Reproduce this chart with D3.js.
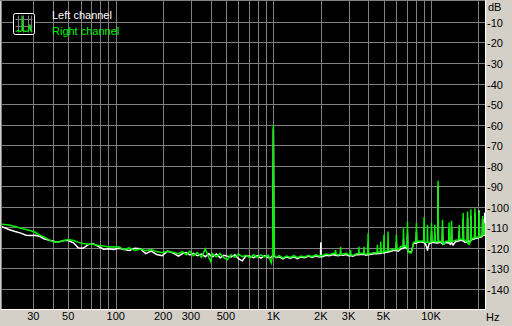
<!DOCTYPE html>
<html>
<head>
<meta charset="utf-8">
<script src="https://cdn.jsdelivr.net/npm/d3@7"></script>
<style>
  body { margin: 0; background: #d4d0c8; }
  svg { display: block; }
  text { font-family: "Liberation Sans", Arial, sans-serif; font-size: 11px; }
</style>
</head>
<body>
<script>
// frequencies (Hz), shared by both channels
var hzLow = [19, 21, 23, 25, 27, 29, 31, 33, 35, 38,
  41, 44, 47, 50, 54, 58, 62, 67, 72, 78,
  84, 90, 97, 105, 113, 122, 132, 143, 155, 168,
  182, 197, 213, 230, 250];
var hzMid = [265, 280, 295, 310, 330, 350, 370, 390, 400, 410,
  435, 460, 485, 510, 540, 570, 600, 635, 670, 710,
  750, 790, 835, 880, 930, 970, 990, 1000, 1010, 1040,
  1090, 1150, 1210, 1280, 1350, 1420, 1500, 1580, 1670, 1760,
  1860, 1960, 1990, 2000, 2010, 2040, 2150, 2270, 2400, 2465,
  2480, 2495, 2580, 2655, 2670, 2685, 2780, 2900];
var hzHigh = [3000, 3075, 3090, 3105, 3200, 3350, 3475, 3490, 3505, 3620,
  3745, 3760, 3775, 3870, 3970, 3990, 4010, 4100, 4300, 4550,
  4570, 4590, 4680, 4780, 4800, 4820, 4910, 5005, 5030, 5055,
  5180, 5315, 5340, 5365, 5500, 5750, 6000, 6030, 6060, 6200,
  6450, 6660, 6690, 6720, 6850, 7055, 7090, 7125, 7250, 7500,
  7750, 8040, 8080, 8120, 8300, 8600, 9000, 9040, 9080, 9250,
  9455, 9500, 9545, 9750, 10020, 10070, 10120, 10300, 10520, 10570,
  10620, 10800, 11040, 11090, 11140, 11350, 11770, 11830, 11890, 12100,
  12400, 12970, 13030, 13090, 13250, 13430, 13500, 13570, 13800, 14300,
  15020, 15090, 15160, 15400, 15920, 16000, 16080, 16450, 16980, 17060,
  17140, 17450, 17820, 17900, 17980, 18400, 18890, 18980, 19070, 19550,
  20110, 20210, 20310, 20700, 21150, 21250, 21350, 21600, 21800, 21900,
  22000];

// Left channel levels (dB)
var leftLow = [-109.8, -111.2, -112.2, -113.0, -114.0, -114.1, -114.0, -114.6, -115.7, -116.5,
  -117.1, -117.2, -116.6, -116.6, -117.7, -120.2, -120.4, -118.6, -118.2, -119.6,
  -120.8, -120.6, -121.0, -120.4, -121.0, -121.4, -120.4, -120.6, -123.0, -121.8,
  -123.4, -124.0, -121.8, -122.6, -124.2];
var leftMid = [-123.0, -122.5, -123.6, -122.8, -124.0, -123.2, -124.5, -123.0, -124.0, -124.6,
  -123.2, -125.0, -123.8, -124.2, -124.6, -123.5, -125.5, -126.5, -124.0, -124.2,
  -125.0, -124.0, -125.2, -124.0, -125.0, -124.8, -124.0, -62.0, -124.0, -125.0,
  -124.5, -125.5, -124.6, -125.2, -124.5, -125.4, -124.6, -125.0, -124.2, -124.8,
  -124.0, -124.6, -124.5, -117.4, -124.5, -124.5, -123.8, -124.0, -123.4, -123.8,
  -123.6, -123.8, -124.0, -123.6, -122.5, -123.6, -123.8, -123.4];
var leftHigh = [-124.0, -124.0, -123.0, -124.0, -124.2, -123.5, -123.5, -122.5, -123.5, -123.3,
  -123.4, -121.8, -123.4, -123.8, -123.5, -118.0, -123.5, -123.4, -123.0, -123.0,
  -122.0, -123.0, -122.8, -122.9, -120.5, -122.9, -122.6, -122.6, -119.0, -122.6,
  -122.3, -122.2, -118.5, -122.2, -122.0, -121.5, -121.4, -117.5, -121.5, -121.8,
  -120.6, -120.4, -116.0, -120.3, -119.8, -120.6, -113.0, -121.8, -122.0, -122.2,
  -118.0, -117.8, -112.5, -117.8, -117.4, -117.2, -117.6, -110.0, -117.8, -118.5,
  -120.5, -121.5, -120.5, -118.0, -117.8, -112.0, -117.6, -117.5, -117.6, -113.0,
  -117.6, -117.8, -117.8, -90.0, -117.6, -117.4, -118.0, -110.0, -118.4, -118.0,
  -117.6, -117.8, -111.0, -118.0, -118.5, -118.0, -110.5, -118.0, -118.8, -117.2,
  -116.8, -112.0, -116.6, -116.6, -116.6, -106.0, -117.0, -117.5, -117.2, -105.5,
  -117.5, -117.0, -116.8, -104.5, -116.4, -116.0, -115.8, -103.0, -115.6, -115.5,
  -115.2, -102.0, -115.0, -115.0, -114.5, -106.0, -114.2, -114.0, -114.0, -103.0,
  -113.5];

// Right channel levels (dB)
var rightLow = [-108.6, -109.0, -109.8, -110.6, -111.2, -111.8, -112.7, -114.0, -114.8, -116.4,
  -117.4, -117.2, -116.6, -116.1, -116.6, -117.5, -118.0, -118.4, -118.4, -119.0,
  -119.3, -119.8, -119.6, -119.8, -121.0, -120.2, -121.5, -120.8, -121.6, -121.0,
  -122.0, -122.5, -121.8, -122.3, -123.0];
var rightMid = [-122.0, -123.5, -121.8, -124.0, -122.5, -124.8, -120.7, -125.0, -126.8, -123.0,
  -124.5, -123.0, -125.0, -126.0, -123.5, -124.8, -123.2, -124.5, -123.8, -125.0,
  -123.5, -124.8, -123.6, -124.6, -123.8, -127.5, -123.5, -60.4, -123.5, -124.8,
  -124.0, -125.2, -124.2, -124.8, -124.0, -125.0, -124.2, -124.6, -123.8, -124.5,
  -123.6, -124.2, -123.9, -123.8, -123.9, -124.0, -123.2, -123.5, -122.8, -123.0,
  -121.2, -123.2, -123.6, -123.3, -119.6, -123.3, -123.2, -122.8];
var rightHigh = [-123.5, -123.4, -121.2, -123.6, -123.8, -123.0, -123.0, -119.6, -123.0, -122.8,
  -123.0, -119.6, -123.0, -123.2, -123.0, -113.0, -123.0, -123.0, -122.5, -122.5,
  -118.7, -122.4, -122.3, -122.4, -117.1, -122.4, -122.4, -122.0, -113.8, -122.0,
  -121.8, -121.6, -112.2, -121.6, -121.5, -120.8, -120.6, -113.8, -120.8, -121.0,
  -119.5, -119.6, -110.6, -119.5, -119.0, -120.0, -107.3, -121.5, -122.5, -122.6,
  -117.5, -117.2, -108.1, -117.2, -117.0, -116.8, -117.0, -105.2, -117.2, -117.5,
  -117.5, -109.0, -117.5, -117.5, -117.2, -108.1, -117.0, -117.0, -117.0, -109.0,
  -117.0, -117.2, -117.2, -87.5, -117.0, -117.0, -117.5, -106.5, -118.0, -118.5,
  -117.0, -117.0, -107.8, -117.2, -117.2, -117.0, -106.9, -117.0, -117.0, -116.5,
  -116.2, -109.0, -116.0, -116.0, -116.0, -103.2, -116.3, -116.5, -117.0, -102.5,
  -118.0, -118.5, -117.0, -101.3, -116.0, -115.5, -115.2, -100.8, -115.2, -115.0,
  -114.8, -102.5, -114.6, -114.5, -114.0, -104.6, -113.8, -113.5, -113.5, -108.0,
  -113.0];

var xTickValues = [30, 50, 100, 200, 300, 500, 1000, 2000, 3000, 5000, 10000];
var xTickLabels = ['30', '50', '100', '200', '300', '500', '1K', '2K', '3K', '5K', '10K'];
var dbTicks = [-10, -20, -30, -40, -50, -60, -70, -80, -90, -100, -110, -120, -130, -140];
var seriesNames = ['Left channel', 'Right channel'];
var seriesColors = ['#ffffff', '#00f000'];

var hz = hzLow.concat(hzMid, hzHigh);
var leftDb = leftLow.concat(leftMid, leftHigh);
var rightDb = rightLow.concat(rightMid, rightHigh);

var W = 512, H = 326;
var plotL = 2, plotR = 485, plotT = 1, plotB = 309;

var x = d3.scaleLog().domain([19, 22000]).range([plotL, plotR]);
var y = d3.scaleLinear().domain([0, -150]).range([1.5, 309]);

var svg = d3.select('body').append('svg').attr('width', W).attr('height', H);

svg.append('rect')
  .attr('x', plotL).attr('y', plotT)
  .attr('width', plotR - plotL).attr('height', plotB - plotT)
  .attr('fill', '#000');

svg.append('clipPath').attr('id', 'plot')
  .append('rect')
  .attr('x', plotL).attr('y', plotT)
  .attr('width', plotR - plotL).attr('height', plotB - plotT);

// vertical grid: every 1..9 x decade, skipping 20 Hz (sits on the edge)
var gridF = x.ticks().filter(function(d) { return d > 25; });
svg.append('g').selectAll('line').data(gridF)
  .enter().append('line')
  .attr('x1', function(d) { return Math.round(x(d)) + 0.5; })
  .attr('x2', function(d) { return Math.round(x(d)) + 0.5; })
  .attr('y1', plotT).attr('y2', plotB)
  .attr('stroke', '#808080').attr('stroke-width', 1);

svg.append('g').selectAll('line').data(dbTicks)
  .enter().append('line')
  .attr('x1', plotL).attr('x2', plotR)
  .attr('y1', function(d) { return Math.round(y(d)) + 0.5; })
  .attr('y2', function(d) { return Math.round(y(d)) + 0.5; })
  .attr('stroke', '#808080').attr('stroke-width', 1);

// frame: grey top/left, white bottom/right
svg.append('line').attr('x1', 0).attr('x2', plotR).attr('y1', 0.5).attr('y2', 0.5).attr('stroke', '#808080');
svg.append('line').attr('x1', 1.5).attr('x2', 1.5).attr('y1', 0).attr('y2', plotB).attr('stroke', '#808080');
svg.append('line').attr('x1', plotR + 0.5).attr('x2', plotR + 0.5).attr('y1', 0).attr('y2', plotB + 1).attr('stroke', '#ffffff');
svg.append('line').attr('x1', 1).attr('x2', plotR + 1).attr('y1', plotB + 0.5).attr('y2', plotB + 0.5).attr('stroke', '#ffffff');

var line = d3.line()
  .x(function(d) { return x(d[0]); })
  .y(function(d) { return y(d[1]); });

var series = [leftDb, rightDb].map(function(vals) {
  return hz.map(function(f, i) { return [f, vals[i]]; });
});

svg.append('g').attr('clip-path', 'url(#plot)')
  .selectAll('path').data(series)
  .enter().append('path')
  .attr('d', line)
  .attr('fill', 'none')
  .attr('stroke', function(d, i) { return seriesColors[i]; })
  .attr('stroke-width', 1.5)
  .attr('stroke-linejoin', 'miter');

// x labels
svg.append('g').selectAll('text').data(xTickValues)
  .enter().append('text')
  .attr('x', function(d) { return x(d); })
  .attr('y', 320)
  .attr('text-anchor', 'middle')
  .attr('fill', '#000')
  .text(function(d, i) { return xTickLabels[i]; });

svg.append('text').attr('x', 486).attr('y', 321).attr('fill', '#000').text('Hz');

// y labels
svg.append('g').selectAll('text').data(dbTicks)
  .enter().append('text')
  .attr('x', 487)
  .attr('y', function(d) { return Math.round(y(d)) + 4.5; })
  .attr('fill', '#000')
  .text(function(d) { return d; });

svg.append('text').attr('x', 488).attr('y', 11).attr('fill', '#000').text('dB');

// legend icon
var icon = svg.append('g').attr('transform', 'translate(13.5,13.5)');
icon.append('rect').attr('width', 21).attr('height', 21).attr('rx', 2)
  .attr('fill', '#000').attr('stroke', '#ffffff').attr('stroke-width', 1);
icon.selectAll('line.v').data([5, 10, 15, 18])
  .enter().append('line')
  .attr('x1', function(d) { return d; }).attr('x2', function(d) { return d; })
  .attr('y1', 2).attr('y2', 19)
  .attr('stroke', '#808080');
icon.selectAll('line.h').data([6, 13])
  .enter().append('line')
  .attr('x1', 2).attr('x2', 19)
  .attr('y1', function(d) { return d; }).attr('y2', function(d) { return d; })
  .attr('stroke', '#808080');
icon.append('path')
  .attr('d', 'M2,18 L5,17 L7,18 L8.5,17 L8.5,2 L9.5,17 L12,18 L15,17 L16.5,11 L17,17 L19,18')
  .attr('fill', 'none').attr('stroke', '#00f000').attr('stroke-width', 1.2);

svg.append('g').selectAll('text').data(seriesNames)
  .enter().append('text')
  .attr('x', 52)
  .attr('y', function(d, i) { return 19 + i * 16; })
  .attr('fill', function(d, i) { return seriesColors[i]; })
  .text(function(d) { return d; });
</script>
</body>
</html>
